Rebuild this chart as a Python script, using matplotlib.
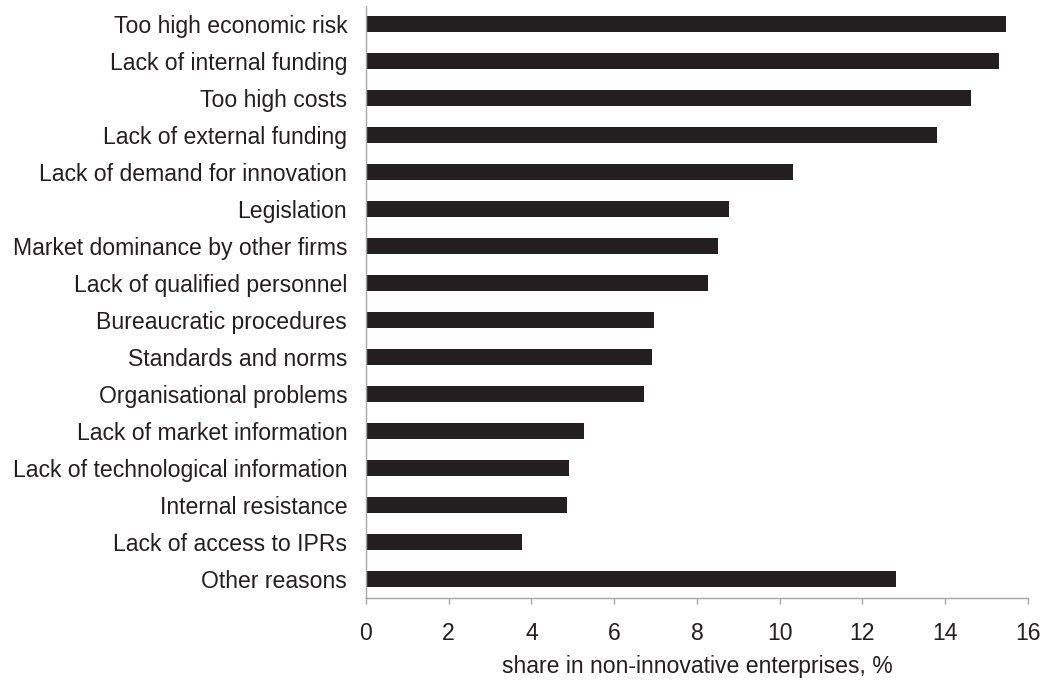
import matplotlib.pyplot as plt

plt.rcParams['font.family'] = ['Liberation Sans', 'DejaVu Sans']

# obstacles to innovation, top to bottom as in the source figure
reasons = [
    'Too high economic risk',
    'Lack of internal funding',
    'Too high costs',
    'Lack of external funding',
    'Lack of demand for innovation',
    'Legislation',
    'Market dominance by other firms',
    'Lack of qualified personnel',
    'Bureaucratic procedures',
    'Standards and norms',
    'Organisational problems',
    'Lack of market information',
    'Lack of technological information',
    'Internal resistance',
    'Lack of access to IPRs',
    'Other reasons',
]
share = [15.48, 15.29, 14.62, 13.80, 10.32, 8.77, 8.51, 8.27,
         6.96, 6.91, 6.72, 5.27, 4.91, 4.86, 3.77, 12.80]
xticks = [0, 2, 4, 6, 8, 10, 12, 14, 16]

dark = '#231f20'
grey = '#a6a6a6'

fig = plt.figure(figsize=(10.45, 6.82), dpi=100)
ax = fig.add_axes([0.3502, 0.1239, 0.6335, 0.868])

pos = list(range(len(reasons)))
ax.barh(pos, share, height=0.43, color=dark)

ax.set_ylim(len(reasons) - 0.5, -0.5)
ax.set_xlim(0, 16)
ax.set_yticks(pos)
ax.set_yticklabels(reasons)
ax.set_xticks(xticks)
ax.set_xticklabels([str(t) for t in xticks])

ax.tick_params(axis='y', length=0, pad=13.5, labelsize=16.6, labelcolor=dark)
ax.tick_params(axis='x', length=4.5, width=1, color=grey, pad=13,
               labelsize=16.6, labelcolor=dark)

for s in ['top', 'right']:
    ax.spines[s].set_visible(False)
for s in ['left', 'bottom']:
    ax.spines[s].set_color(grey)
    ax.spines[s].set_linewidth(1)

ax.set_xlabel('share in non-innovative enterprises, %', fontsize=16.6,
              color=dark, labelpad=7)

fig.savefig('out.png', dpi=100)
